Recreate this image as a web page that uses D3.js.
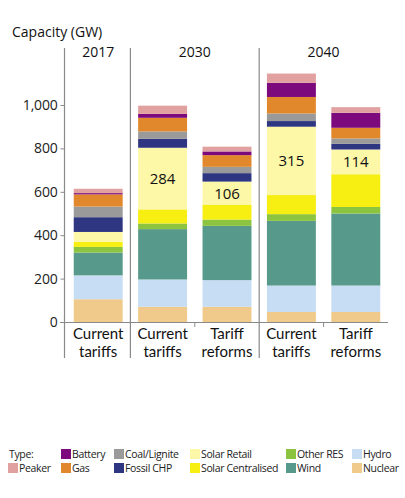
<!DOCTYPE html>
<html><head><meta charset="utf-8">
<script src="https://cdn.jsdelivr.net/npm/d3@7"></script>
<style>
html,body{margin:0;padding:0;background:#fff;}
svg{display:block;font-family:"Open Sans","Noto Sans",sans-serif;}
</style></head>
<body>
<svg id="chart" width="405" height="498"></svg>
<script>
// ---- data ----
const scenarios = ["2017 Current tariffs","2030 Current tariffs","2030 Tariff reforms","2040 Current tariffs","2040 Tariff reforms"];
const scenarioLine1 = ["Current","Current","Tariff","Current","Tariff"];
const scenarioLine2 = ["tariffs","tariffs","reforms","tariffs","reforms"];
const years = ["2017","2030","2040"];
const yearSpans = [[0,0],[1,2],[3,4]];
const types = ["Nuclear","Hydro","Wind","Other RES","Solar Centralised","Solar Retail","Fossil CHP","Coal/Lignite","Gas","Battery","Peaker"];
const colors = ["#f0ca8a","#c7ddf3","#57998a","#8dc43f","#f7ee12","#fdf7a8","#2e3581","#9a9a9a","#e0882b","#7d0a7d","#e2a1a1"];
const nuclear = [105,70,70,46,46];
const hydro = [110,126,123,122,122];
const wind = [105,232,250,298,332];
const otherRES = [26,26,29,31,30];
const solarCentralised = [23,65,69,88,151];
const solarRetail = [46,284,106,315,114];
const fossilCHP = [68,41,39,26,26];
const coalLignite = [49,34,29,35,25];
const gas = [56,63,54,76,49];
const battery = [6,18,17,65,69];
const peaker = [20,38,22,43,26];
const solarRetailLabels = [null,"284","106","315","114"];
const yTicks = [0,200,400,600,800,1000];
// legend order (two rows)
const legendRow1 = ["Battery","Coal/Lignite","Solar Retail","Other RES","Hydro"];
const legendRow2 = ["Peaker","Gas","Fossil CHP","Solar Centralised","Wind","Nuclear"];

const seriesArrays = [nuclear,hydro,wind,otherRES,solarCentralised,solarRetail,fossilCHP,coalLignite,gas,battery,peaker];
const table = scenarios.map((s,i)=>{
  const row = {scenario:s};
  types.forEach((t,j)=>row[t]=seriesArrays[j][i]);
  return row;
});
const color = d3.scaleOrdinal().domain(types).range(colors);

const svg = d3.select("#chart");
const x = d3.scaleBand().domain(scenarios).range([66,388]).paddingInner(0.24).paddingOuter(0.12);
const y = d3.scaleLinear().domain([0,1000]).range([322,105]);

const stacked = d3.stack().keys(types)(table);

// bars
svg.append("g").selectAll("g").data(stacked).join("g")
  .attr("fill", d=>color(d.key))
  .selectAll("rect").data(d=>d).join("rect")
  .attr("x", d=>x(d.data.scenario))
  .attr("width", x.bandwidth())
  .attr("y", d=>y(d[1]))
  .attr("height", d=>y(d[0])-y(d[1]));

// solar retail labels
const sr = stacked.find(s=>s.key==="Solar Retail");
svg.append("g").selectAll("text").data(sr.filter((d,i)=>solarRetailLabels[i]!==null)).join("text")
  .attr("x", d=>x(d.data.scenario)+x.bandwidth()/2)
  .attr("y", d=>(y(d[0])+y(d[1]))/2)
  .attr("dy","0.36em")
  .attr("text-anchor","middle")
  .attr("font-size",15)
  .attr("fill","#111")
  .text(d=>solarRetailLabels[scenarios.indexOf(d.data.scenario)]);

const gray = "#8a8a8a";
// y axis
const yAxis = svg.append("g").attr("transform","translate(64.5,0)")
  .call(d3.axisLeft(y).tickValues(yTicks).tickSize(4).tickPadding(3).tickFormat(d3.format(",")));
yAxis.select(".domain").remove();
yAxis.selectAll("line").attr("stroke",gray);
yAxis.selectAll("text").attr("font-size",14).attr("fill","#222").attr("font-family","Open Sans").attr("letter-spacing",-0.2);
svg.append("line").attr("x1",64.5).attr("x2",64.5).attr("y1",48).attr("y2",358).attr("stroke",gray).attr("stroke-width",1.2);

// group separators
const step = x.step();
const gap = (step-x.bandwidth())/2;
const sepX = [ x(scenarios[1]) - gap, x(scenarios[3]) - gap ];
svg.append("g").selectAll("line").data(sepX).join("line")
  .attr("x1",d=>d).attr("x2",d=>d).attr("y1",48).attr("y2",358)
  .attr("stroke",gray).attr("stroke-width",1.2);
// minor ticks within groups
const minorX = [ x(scenarios[2]) - gap, x(scenarios[4]) - gap ];
svg.append("g").selectAll("line").data(minorX).join("line")
  .attr("x1",d=>d).attr("x2",d=>d).attr("y1",322).attr("y2",327)
  .attr("stroke",gray).attr("stroke-width",1);

// x axis baseline
svg.append("line").attr("x1",60).attr("x2",388).attr("y1",322.5).attr("y2",322.5).attr("stroke",gray).attr("stroke-width",1.2);

// x labels (two lines)
const xlab = svg.append("g").attr("text-anchor","middle").attr("font-size",15).attr("fill","#111")
  .attr("font-family","Lato, 'Open Sans', sans-serif");
xlab.selectAll("text.l1").data(scenarios).join("text").attr("class","l1")
  .attr("x",d=>x(d)+x.bandwidth()/2).attr("y",338.5).text((d,i)=>scenarioLine1[i]);
xlab.selectAll("text.l2").data(scenarios).join("text").attr("class","l2")
  .attr("x",d=>x(d)+x.bandwidth()/2).attr("y",356.5).text((d,i)=>scenarioLine2[i]);

// year headers
svg.append("g").selectAll("text").data(years).join("text")
  .attr("text-anchor","middle").attr("font-size",14).attr("fill","#111")
  .attr("x",(d,i)=>{const s=yearSpans[i];return (x(scenarios[s[0]])+x(scenarios[s[1]])+x.bandwidth())/2;})
  .attr("y",57).text(d=>d);

// title
svg.append("text").attr("x",12).attr("y",37).attr("font-size",14).attr("fill","#111").text("Capacity (GW)");

// legend
const lg = svg.append("g").attr("font-size",10.5).attr("fill","#222").attr("letter-spacing",-0.35);
lg.append("text").attr("x",9).attr("y",458).text("Type:");
const colX = [61,114,190,286,352];
const colX2 = [8,61,114,190,286,352];
legendRow1.forEach((k,i)=>{
  lg.append("rect").attr("x",colX[i]).attr("y",449).attr("width",10).attr("height",10).attr("fill",color(k));
  lg.append("text").attr("x",colX[i]+11).attr("y",458).text(k);
});
legendRow2.forEach((k,i)=>{
  lg.append("rect").attr("x",colX2[i]).attr("y",463).attr("width",10).attr("height",10).attr("fill",color(k));
  lg.append("text").attr("x",colX2[i]+11).attr("y",472).text(k);
});
</script>
</body></html>
